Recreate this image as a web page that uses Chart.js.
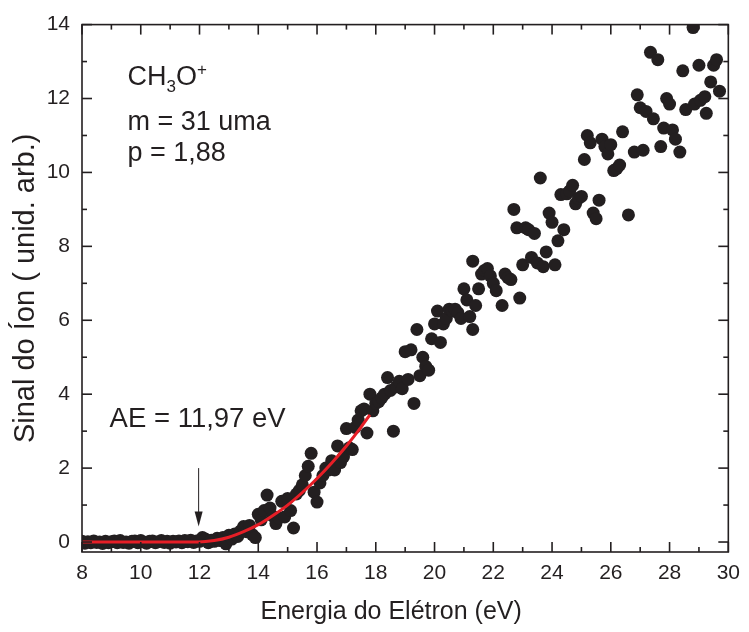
<!DOCTYPE html>
<html>
<head>
<meta charset="utf-8">
<script src="https://cdn.jsdelivr.net/npm/chart.js@4.4.0/dist/chart.umd.min.js"></script>
<style>
  html, body { margin: 0; padding: 0; background: #fff; }
</style>
</head>
<body>
<canvas id="ionChart" width="749" height="632"></canvas>
<script>
// measured points (eV, arb. units)
var energy = [
  8.0, 8.1, 8.2, 8.3, 8.4, 8.5, 8.6, 8.7, 8.8, 8.9,
  9.0, 9.1, 9.2, 9.3, 9.4, 9.5, 9.6, 9.7, 9.8, 9.9,
  10.0, 10.1, 10.2, 10.3, 10.4, 10.5, 10.6, 10.7, 10.8, 10.9,
  11.0, 11.1, 11.2, 11.3, 11.4, 11.5, 11.6, 11.7, 11.8, 11.9,
  12.0, 12.1, 12.2, 12.3, 12.4, 12.5, 12.6, 12.7, 12.8, 12.9,
  13.0, 13.1, 13.2, 13.3, 13.4, 13.5, 13.6, 13.7, 13.8, 13.9,
  14.0, 14.1, 14.2, 14.3, 14.4, 14.5, 14.6, 14.7, 14.8, 14.9,
  15.0, 15.1, 15.2, 15.3, 15.4, 15.5, 15.6, 15.7, 15.8, 15.9,
  16.0, 16.1, 16.2, 16.3, 16.4, 16.5, 16.6, 16.7, 16.8, 16.9,
  17.0, 17.1, 17.2, 17.3, 17.4, 17.5, 17.6, 17.7, 17.8, 17.9,
  18.0, 18.1, 18.2, 18.3, 18.4, 18.5, 18.6, 18.7, 18.8, 18.9,
  19.0, 19.1, 19.2, 19.3, 19.4, 19.5, 19.6, 19.7, 19.8, 19.9,
  20.0, 20.1, 20.2, 20.3, 20.4, 20.5, 20.6, 20.7, 20.8, 20.9,
  21.0, 21.1, 21.2, 21.3, 21.3, 21.4, 21.5, 21.6, 21.7, 21.8, 21.9,
  22.0, 22.1, 22.3, 22.4, 22.5, 22.6, 22.7, 22.8, 22.9,
  23.0, 23.1, 23.2, 23.3, 23.4, 23.5, 23.6, 23.7, 23.8, 23.9,
  24.0, 24.1, 24.2, 24.3, 24.4, 24.5, 24.6, 24.7, 24.8, 24.9,
  25.0, 25.1, 25.2, 25.3, 25.4, 25.5, 25.6, 25.7, 25.8, 25.9,
  26.0, 26.1, 26.2, 26.3, 26.4, 26.6, 26.8, 26.9,
  27.0, 27.1, 27.2, 27.35, 27.45, 27.6, 27.7, 27.8, 27.9,
  28.0, 28.1, 28.2, 28.35, 28.45, 28.55, 28.8, 28.85,
  29.0, 29.05, 29.2, 29.25, 29.4, 29.5, 29.6, 29.7
];
var signal = [
  0.02, -0.03, 0.01, -0.02, 0.03, -0.01, 0.00, -0.04, 0.02, -0.02,
  0.01, 0.03, -0.02, 0.04, -0.01, 0.00, -0.03, 0.02, 0.03, -0.02,
  0.04, 0.00, -0.03, 0.02, 0.03, -0.02, 0.01, 0.04, -0.01, 0.02,
  -0.03, 0.02, 0.00, 0.03, -0.02, 0.04, 0.01, 0.05, -0.01, 0.03,
  0.02, 0.12, 0.08, -0.02, 0.05, 0.02, 0.10, 0.04, 0.12, -0.05,
  0.18, 0.08, 0.22, 0.15, 0.30, 0.42, 0.28, 0.45, 0.20, 0.12,
  0.75, 0.60, 0.85, 1.27, 0.92, 0.70, 0.50, 0.65, 1.10, 0.68,
  1.18, 0.85, 0.38, 1.30, 1.40, 1.55, 1.80, 2.05, 2.40, 1.35,
  1.08, 1.60, 1.80, 2.00, 1.95, 2.20, 1.95, 2.60, 2.15, 2.30,
  3.07, 2.55, 2.50, 3.10, 3.30, 3.55, 3.60, 2.95, 4.00, 3.55,
  3.75, 3.80, 3.90, 4.00, 4.45, 4.10, 3.00, 4.20, 4.35, 4.15,
  5.15, 4.40, 5.20, 3.75, 5.75, 4.50, 5.00, 4.75, 4.65, 5.50,
  5.90, 6.25, 5.40, 5.90, 6.05, 6.30, 6.25, 6.30, 6.20, 6.05,
  6.85, 6.55, 6.10, 5.75, 7.60, 6.40, 6.85, 7.25, 7.35, 7.40, 7.20,
  7.00, 6.80, 6.40, 7.25, 7.15, 7.10, 9.00, 8.50, 6.60,
  7.50, 8.50, 8.45, 7.70, 8.35, 7.55, 9.85, 7.45, 7.85, 8.90,
  8.65, 7.50, 8.15, 9.40, 8.45, 9.42, 9.50, 9.65, 9.15, 9.30,
  9.35, 10.35, 11.00, 10.80, 8.90, 8.75, 9.25, 10.90, 10.70, 10.50,
  10.75, 10.05, 10.10, 10.20, 11.10, 8.85, 10.55, 12.10,
  11.75, 10.60, 11.65, 13.25, 11.45, 13.05, 10.70, 11.20, 12.00,
  11.85, 11.15, 10.90, 10.55, 12.75, 11.70, 13.92, 11.85,
  12.90, 11.95, 12.05, 11.60, 12.45, 12.90, 13.05, 12.20
];

// threshold fit curve
var fitEnergy = [8, 9, 10, 11, 11.97, 12.5, 13, 13.5, 14, 14.5, 15, 15.5, 16, 16.5, 17, 17.5, 17.8];
var fitSignal = [0, 0, 0, 0, 0, 0.04, 0.13, 0.28, 0.47, 0.72, 1.00, 1.34, 1.72, 2.14, 2.60, 3.11, 3.44];

var xTicks = [8, 10, 12, 14, 16, 18, 20, 22, 24, 26, 28, 30];
var yTicks = [0, 2, 4, 6, 8, 10, 12, 14];

var xTitle = 'Energia do Elétron (eV)',
    yTitle = 'Sinal do Íon ( unid. arb.)';

var ink = '#231f20',
    fitRed = '#e61e26',
    face = '"Liberation Sans", Arial, Helvetica, sans-serif';

function pairs(xs, ys) {
  return xs.map(function(x, i) { return { x: x, y: ys[i] }; });
}

var frame = {
  id: 'frame',
  afterDatasetsDraw: function(chart) {
    var ctx = chart.ctx,
        a = chart.chartArea,
        sx = chart.scales.x,
        sy = chart.scales.y;

    function seg(x1, y1, x2, y2) {
      ctx.beginPath();
      ctx.moveTo(x1, y1);
      ctx.lineTo(x2, y2);
      ctx.stroke();
    }

    ctx.save();
    ctx.strokeStyle = ink;
    ctx.lineWidth = 1.6;
    ctx.strokeRect(a.left, a.top, a.right - a.left, a.bottom - a.top);

    // inward ticks, major on even values, minor on odd
    var v, p, len;
    for (v = xTicks[0]; v <= xTicks[xTicks.length - 1]; v++) {
      p = sx.getPixelForValue(v);
      len = v % 2 ? 5 : 10;
      seg(p, a.bottom, p, a.bottom - len);
      seg(p, a.top, p, a.top + len);
    }
    for (v = yTicks[0]; v <= yTicks[yTicks.length - 1]; v++) {
      p = sy.getPixelForValue(v);
      len = v % 2 ? 5 : 10;
      seg(a.left, p, a.left + len, p);
      seg(a.right, p, a.right - len, p);
    }

    // arrow at the appearance energy
    var ax = sx.getPixelForValue(11.97),
        aTop = sy.getPixelForValue(2.0),
        aTip = sy.getPixelForValue(0.42);
    ctx.lineWidth = 1;
    seg(ax, aTop, ax, aTip - 6);
    ctx.fillStyle = ink;
    ctx.beginPath();
    ctx.moveTo(ax, aTip);
    ctx.lineTo(ax - 4, aTip - 15);
    ctx.lineTo(ax + 4, aTip - 15);
    ctx.closePath();
    ctx.fill();

    // labels
    ctx.fillStyle = ink;
    ctx.textAlign = 'left';
    ctx.textBaseline = 'alphabetic';
    var big = '27px ' + face, small = '17px ' + face;
    var tx = sx.getPixelForValue(9.55), ty = sy.getPixelForValue(12.36);
    ctx.font = big;
    ctx.fillText('CH', tx, ty);
    tx += ctx.measureText('CH').width;
    ctx.font = small;
    ctx.fillText('3', tx, ty + 7);
    tx += ctx.measureText('3').width;
    ctx.font = big;
    ctx.fillText('O', tx, ty);
    tx += ctx.measureText('O').width;
    ctx.font = small;
    ctx.fillText('+', tx, ty - 10);

    ctx.font = big;
    ctx.fillText('m = 31 uma', sx.getPixelForValue(9.55), sy.getPixelForValue(11.15));
    ctx.fillText('p = 1,88', sx.getPixelForValue(9.55), sy.getPixelForValue(10.31));
    ctx.font = '27.5px ' + face;
    ctx.fillText('AE = 11,97 eV', sx.getPixelForValue(8.94), sy.getPixelForValue(3.10));

    // axis titles
    ctx.textAlign = 'center';
    ctx.textBaseline = 'middle';
    ctx.font = '25px ' + face;
    ctx.fillText(xTitle, (a.left + a.right) / 2 - 14, 612);
    ctx.translate(26, (a.top + a.bottom) / 2);
    ctx.rotate(-Math.PI / 2);
    ctx.font = '29px ' + face;
    ctx.fillText(yTitle, 0, 0);
    ctx.restore();
  }
};

new Chart(document.getElementById('ionChart').getContext('2d'), {
  type: 'scatter',
  data: {
    datasets: [{
      type: 'line',
      data: pairs(fitEnergy, fitSignal),
      borderColor: fitRed,
      borderWidth: 3,
      pointRadius: 0,
      cubicInterpolationMode: 'monotone',
      fill: false
    }, {
      data: pairs(energy, signal),
      backgroundColor: ink,
      borderColor: ink,
      borderWidth: 0,
      pointRadius: 6.5,
      pointHoverRadius: 6.5
    }]
  },
  options: {
    responsive: false,
    animation: false,
    devicePixelRatio: 1,
    layout: { padding: { top: 22, right: 13, left: 0, bottom: 0 } },
    plugins: {
      legend: { display: false },
      tooltip: { enabled: false }
    },
    scales: {
      x: {
        type: 'linear',
        min: 8,
        max: 30,
        grid: { display: false, drawTicks: false },
        border: { display: false },
        ticks: {
          stepSize: 2,
          includeBounds: false,
          padding: 9,
          color: ink,
          font: { family: face, size: 21 }
        },
        afterFit: function(scale) { scale.height = 80; }
      },
      y: {
        type: 'linear',
        min: -0.27,
        max: 14,
        grid: { display: false, drawTicks: false },
        border: { display: false },
        ticks: {
          stepSize: 2,
          includeBounds: false,
          padding: 12,
          color: ink,
          font: { family: face, size: 21 }
        },
        afterFit: function(scale) { scale.width = 82; }
      }
    }
  },
  plugins: [frame]
});
</script>
</body>
</html>
